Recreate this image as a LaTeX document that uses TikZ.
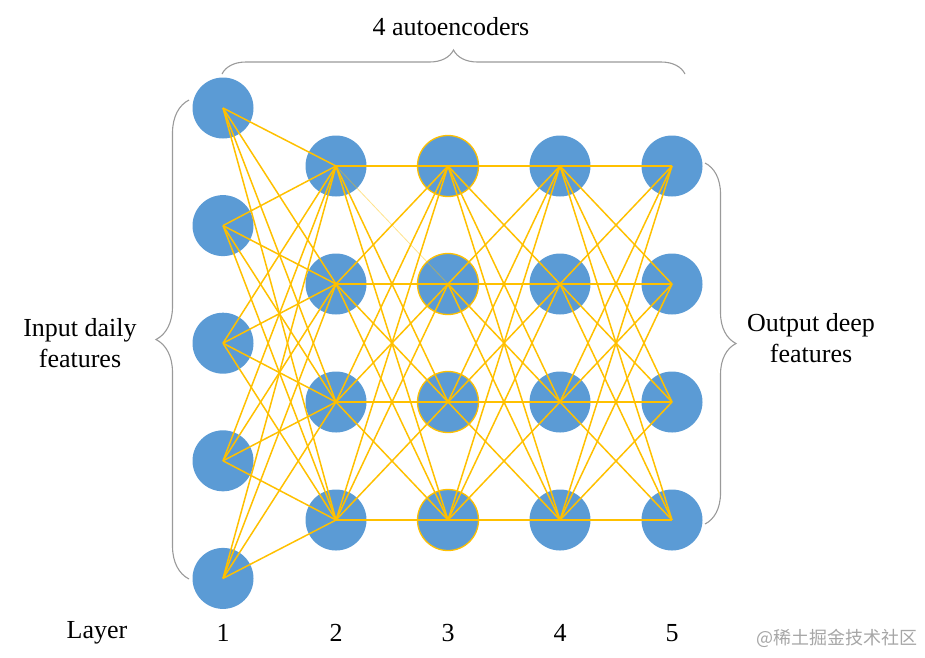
\documentclass[tikz,border=0pt]{standalone}
\usepackage{fontspec}
\setmainfont{Liberation Serif}
\newfontfamily\cjk{Noto Sans CJK SC}
\usetikzlibrary{positioning}
\usetikzlibrary{decorations.pathreplacing}

\definecolor{neuron}{HTML}{5B9BD5}
\definecolor{synapse}{HTML}{FFC000}
\definecolor{bracegray}{HTML}{9A9A9A}

\tikzset{
    unit/.style={circle, fill=neuron, minimum size=61pt, inner sep=0pt},
    ringunit/.style={unit, draw=synapse, line width=1.3pt},
    link/.style={synapse, line width=1.5pt},
    curly/.style={bracegray, line width=1.1pt, decorate},
    label/.style={font=\fontsize{26}{31}\selectfont, align=center}
}

\begin{document}
\begin{tikzpicture}[x=1pt, y=-1pt]
            \useasboundingbox (0,0) rectangle (925,657);

            % 输入层 (5 个)
            \foreach \i in {1,...,5}
                \node[unit] (n1-\i) at (223, {108+117.6*(\i-1)}) {};

            % 隐藏层 2--5 (各 4 个)
            \foreach \l/\x in {2/336, 3/448, 4/560, 5/672}
                \foreach \i in {1,...,4}
                    \node[unit] (n\l-\i) at (\x, {166+118*(\i-1)}) {};
            \foreach \i in {1,...,4}
                \node[ringunit] at (n3-\i) {};

            % 全连接
            \foreach \i in {1,...,5}
                \foreach \j in {1,...,4}
                    \draw[link] (n1-\i.center) -- (n2-\j.center);
            \foreach \a/\b in {2/3, 3/4, 4/5}
                \foreach \i in {1,...,4}
                    \foreach \j in {1,...,4} {
                        \ifnum\a\i\j=212 \else
                            \draw[link] (n\a-\i.center) -- (n\b-\j.center);
                        \fi
                    }
            % 较淡的一条
            \draw[link, line width=0.8pt, opacity=0.45] (n2-1.center) -- (n3-2.center);

            % 括号
            \draw[curly, decoration={brace, amplitude=24pt}] (222,74) -- (685,74);
            \draw[curly, decoration={brace, amplitude=33pt}] (189,579) -- (189,100);
            \draw[curly, decoration={brace, amplitude=31pt}] (705,163) -- (705,524);

            % 文字
            \node[label] (top) at (451,27) {4 autoencoders};
            \node[label] (inp) at (80,343) {Input daily\\features};
            \node[label] (outp) at (811,338) {Output deep\\features};
            \node[label] (layer) at (97,633) {Layer};
            \foreach \l in {1,...,5}
                \node[label] (num\l) at (n\l-1 |- layer) {\l};
            \node[anchor=east, text=black!35, font=\cjk\fontsize{18}{20}\selectfont] (mark) at (921,638) {@稀土掘金技术社区};
        \end{tikzpicture}
\end{document}
